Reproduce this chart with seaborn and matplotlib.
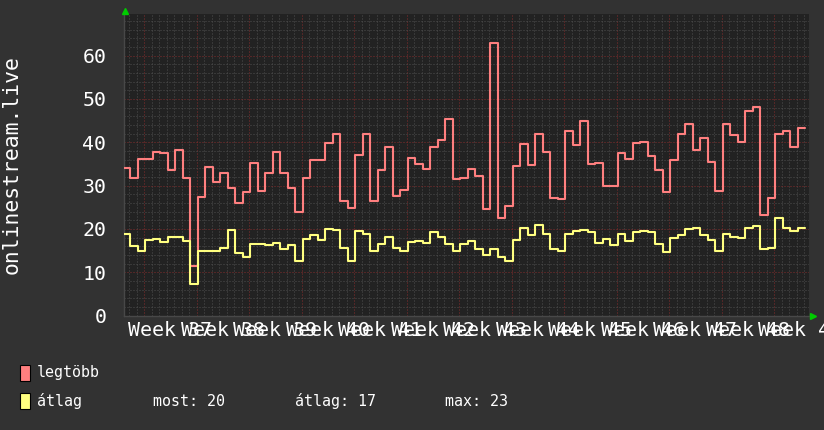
import numpy as np
import pandas as pd
import matplotlib
matplotlib.use("Agg")
import matplotlib.pyplot as plt
from matplotlib.patches import Rectangle
from matplotlib.ticker import MultipleLocator, FixedLocator
import seaborn as sns

# Daily values, first one is the partial day at the left edge
legtobb = [34.0, 31.8, 36.1, 36.1, 37.8, 37.5, 33.5, 38.3, 31.8, 11.5,
           27.3, 34.2, 30.8, 32.9, 29.5, 26.0, 28.5, 35.3, 28.8, 32.8,
           37.8, 33.0, 29.5, 23.8, 31.8, 36.0, 35.8, 39.8, 41.8, 26.4,
           24.8, 37.0, 41.8, 26.5, 33.5, 38.8, 27.6, 28.9, 36.3, 34.9,
           33.7, 38.8, 40.6, 45.3, 31.4, 31.8, 33.9, 32.3, 24.5, 62.8,
           22.5, 25.2, 34.5, 39.5, 34.7, 41.8, 37.8, 27.2, 26.8, 42.5,
           39.3, 44.8, 34.9, 35.3, 30.0, 29.8, 37.5, 36.2, 39.8, 40.0,
           36.8, 33.5, 28.5, 35.8, 41.8, 44.2, 38.1, 40.9, 35.5, 28.8,
           44.2, 41.7, 40.1, 47.3, 48.1, 23.2, 27.2, 41.8, 42.5, 38.8,
           43.2]
atlag = [18.7, 16.0, 14.8, 17.4, 17.7, 16.9, 18.1, 18.1, 17.2, 7.2,
         15.0, 15.0, 15.0, 15.5, 19.8, 14.4, 13.5, 16.4, 16.4, 16.2,
         16.8, 15.3, 16.2, 12.6, 17.6, 18.5, 17.4, 19.9, 19.7, 15.5,
         12.5, 19.6, 18.8, 14.8, 16.6, 18.1, 15.6, 14.8, 16.9, 17.3,
         16.7, 19.2, 18.1, 16.5, 14.8, 16.6, 17.3, 15.3, 13.9, 15.3,
         13.5, 12.5, 17.4, 20.3, 18.5, 20.8, 18.7, 15.4, 14.8, 18.7,
         19.4, 19.7, 19.2, 16.7, 17.7, 16.3, 18.7, 17.2, 19.2, 19.4,
         19.2, 16.5, 14.6, 17.8, 18.5, 20.0, 20.2, 18.5, 17.4, 15.0,
         18.7, 18.2, 17.8, 20.3, 20.6, 15.3, 15.6, 22.4, 20.2, 19.6,
         20.2]
week_labels = ["Week %d" % w for w in range(37, 50)]
series_names = ["legtöbb", "átlag"]
stats_text = ["most: 20", "átlag: 17", "max: 23"]
y_title = "onlinestream.live"

BACK = "#323232"
CANVAS = "#222222"
RED = "#ff7f7f"
YELLOW = "#ffff80"
MINOR = "#4e4e4e"
MAJOR = "#842c2c"
ARROW = "#00cc00"

sns.set_style("dark", {"axes.facecolor": CANVAS, "figure.facecolor": BACK,
                       "text.color": "white", "xtick.color": "white",
                       "ytick.color": "white"})
plt.rcParams["font.family"] = ["DejaVu Sans Mono", "DejaVu Sans"]

# step data: day k covers [k, k+1); last value repeated to close the step
day = np.arange(-1, len(legtobb))
df = pd.DataFrame({"day": day,
                   series_names[0]: legtobb + [legtobb[-1]],
                   series_names[1]: atlag + [atlag[-1]]})
long = df.melt(id_vars="day", var_name="series", value_name="value")

W, H = 824, 430
fig = plt.figure(figsize=(W / 100, H / 100), dpi=100)
left, right, top, bottom = 124.5, 809, 13.5, 315.5
ax = fig.add_axes([left / W, 1 - bottom / H, (right - left) / W, (bottom - top) / H])

sns.lineplot(data=long, x="day", y="value", hue="series", palette=[RED, YELLOW],
             drawstyle="steps-post", linewidth=1.5, legend=False,
             estimator=None, ax=ax, zorder=3)

x_left = -0.76
x_right = x_left + (right - left) / 7.5
ax.set_xlim(x_left, x_right)
ax.set_ylim(0, (bottom - top) / 4.333)

week0 = 1.84  # first Monday line in day units
week_starts = week0 + 7 * np.arange(len(week_labels))
ax.xaxis.set_major_locator(FixedLocator(week_starts))
ax.xaxis.set_minor_locator(FixedLocator(week0 + np.arange(-2, 90)))
ax.yaxis.set_major_locator(MultipleLocator(10))
ax.yaxis.set_minor_locator(MultipleLocator(2))

ax.set_axisbelow(True)
ax.grid(which="minor", color=MINOR, linestyle=(0, (1, 2)), linewidth=0.72)
ax.grid(which="major", color=MAJOR, linestyle=(0, (1, 2)), linewidth=0.72)

ax.tick_params(axis="x", which="both", length=0, labelbottom=False)
ax.tick_params(axis="y", which="both", length=0, pad=13, labelsize=14.3,
               labelcolor="white")
ax.set_xlabel("")
ax.set_ylabel("")
for s in ["top", "right"]:
    ax.spines[s].set_visible(False)
for s in ["left", "bottom"]:
    ax.spines[s].set_color("#484848")
    ax.spines[s].set_linewidth(1)

# week labels centred in each week, overlapping like the original
for ws, lab in zip(week_starts, week_labels):
    ax.text(ws + 3.5, -(330 - bottom) / (bottom - top), lab,
            transform=ax.get_xaxis_transform(), ha="center", va="center",
            fontsize=14.3, color="white", clip_on=False)

fig.text(12 / W, 1 - (top + bottom) / 2 / H, y_title, rotation=90,
         ha="center", va="center", fontsize=15.4, color="white")

# axis arrows
fig.lines.append(plt.Line2D([124.7 / W], [1 - 11 / H], marker="^", color=ARROW,
                            markersize=4.5, transform=fig.transFigure))
fig.lines.append(plt.Line2D([812.5 / W], [1 - 315.5 / H], marker=">", color=ARROW,
                            markersize=4.5, transform=fig.transFigure))

# legend
for i, (name, col) in enumerate(zip(series_names, [RED, YELLOW])):
    y0 = 365 + 28 * i
    fig.patches.append(Rectangle((20 / W, 1 - (y0 + 16) / H), 10 / W, 16 / H,
                                 facecolor=col, edgecolor="black", linewidth=0.8,
                                 transform=fig.transFigure))
    fig.text(37 / W, 1 - (y0 + 8) / H, name, va="center", fontsize=10.8,
             color="white")
for x0, t in zip([153, 295, 445], stats_text):
    fig.text(x0 / W, 1 - 401 / H, t, va="center", fontsize=10.8, color="white")

fig.savefig("out.png", dpi=100, facecolor=BACK)
